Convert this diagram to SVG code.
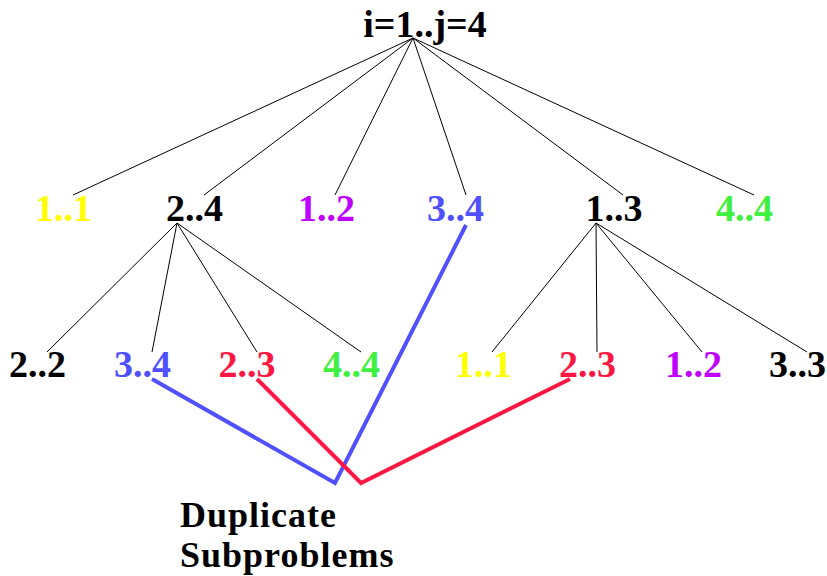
<svg xmlns="http://www.w3.org/2000/svg" width="827" height="576" viewBox="0 0 827 576">
<style>
text{font-weight:bold;font-size:38px;text-anchor:middle}
.k{fill:#000}.y{fill:#FFFF00}.p{fill:#C000FF}.b{fill:#5050FF}.g{fill:#40F040}.r{fill:#FF1744}
.t{stroke:#000;stroke-width:1;fill:none}
.bl{stroke:#5050FF;stroke-width:4;fill:none}
.rl{stroke:#FF1744;stroke-width:4;fill:none}
.lbl{text-anchor:start;font-size:36px;letter-spacing:1px}
</style>
<rect width="827" height="576" fill="#fff"/>
<g id="connectors">
<line class="t" x1="413" y1="38" x2="73" y2="195"/>
<line class="t" x1="413" y1="38" x2="204" y2="195"/>
<line class="t" x1="413" y1="38" x2="335" y2="195"/>
<line class="t" x1="413" y1="38" x2="466" y2="195"/>
<line class="t" x1="413" y1="38" x2="623" y2="195"/>
<line class="t" x1="413" y1="38" x2="754" y2="195"/>
<line class="t" x1="177" y1="223" x2="47" y2="352"/>
<line class="t" x1="177" y1="223" x2="152" y2="352"/>
<line class="t" x1="177" y1="223" x2="257" y2="352"/>
<line class="t" x1="177" y1="223" x2="361" y2="352"/>
<line class="t" x1="596" y1="223" x2="492" y2="352"/>
<line class="t" x1="596" y1="223" x2="597" y2="352"/>
<line class="t" x1="596" y1="223" x2="702" y2="352"/>
<line class="t" x1="596" y1="223" x2="807" y2="352"/>
<polyline class="bl" points="152,379 335,483 466,225"/>
<polyline class="rl" points="257,379 361,483 570,379"/>
</g>
<g font-family="Liberation Serif, serif">
<g id="root"><text class="k" x="425" y="37">i=1..j=4</text></g>
<g id="n1_1"><text class="y" x="63.5" y="221">1..1</text></g>
<g id="n2_4"><text class="k" x="194.5" y="221">2..4</text></g>
<g id="n1_2"><text class="p" x="326.5" y="221">1..2</text></g>
<g id="n3_4"><text class="b" x="455.5" y="221">3..4</text></g>
<g id="n1_3"><text class="k" x="614" y="221">1..3</text></g>
<g id="n4_4"><text class="g" x="744.5" y="221">4..4</text></g>
<g id="m2_2"><text class="k" x="37.5" y="377">2..2</text></g>
<g id="m3_4"><text class="b" x="142.5" y="377">3..4</text></g>
<g id="m2_3a"><text class="r" x="247" y="377">2..3</text></g>
<g id="m4_4"><text class="g" x="351.5" y="377">4..4</text></g>
<g id="m1_1"><text class="y" x="483.5" y="377">1..1</text></g>
<g id="m2_3b"><text class="r" x="587.5" y="377">2..3</text></g>
<g id="m1_2"><text class="p" x="693.5" y="377">1..2</text></g>
<g id="m3_3"><text class="k" x="797.5" y="377">3..3</text></g>
<g id="label"><text class="k lbl" x="180" y="527">Duplicate</text><text class="k lbl" x="180" y="567">Subproblems</text></g>
</g>
</svg>
